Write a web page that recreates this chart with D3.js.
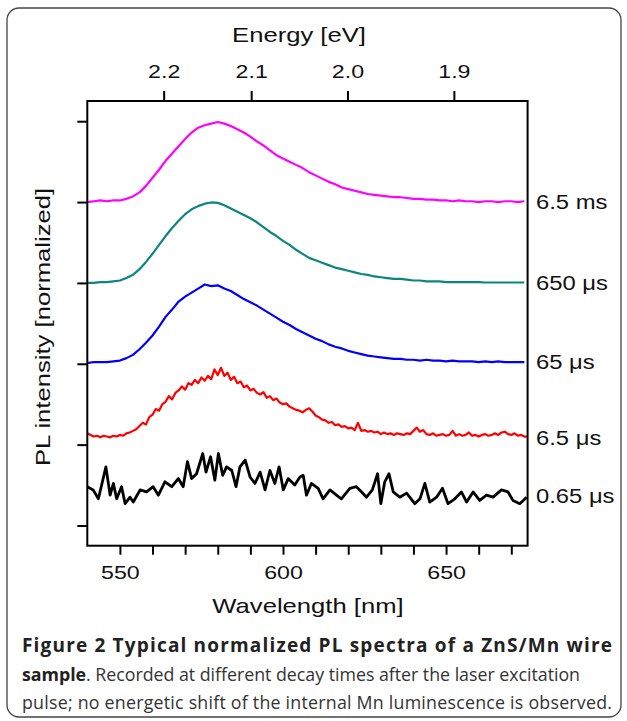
<!DOCTYPE html>
<meta charset="utf-8">
<style>
  body { margin: 0; background: #fff; }
  svg { display: block; }
  .chart text { font-family: "Liberation Sans", Arial, sans-serif; fill: #111; }
  .caption { font-family: "Open Sans", sans-serif; fill: #333; font-size: 17.8px; }
</style>
<svg width="627" height="721"></svg>
<script src="https://d3js.org/d3.v7.min.js"></script>
<script>
// ---- data ----
var seriesLabels = ["6.5 ms", "650 \u03bcs", "65 \u03bcs", "6.5 \u03bcs", "0.65 \u03bcs"];
var seriesColors = ["#ff00ff", "#0a8580", "#0000ff", "#ff0000", "#000000"];
var labelLevels = [4.0, 3.0, 2.02, 1.08, 0.36];

var wl2 = d3.range(540, 675, 2);   // 2 nm sampling of the smooth traces
var magentaVals = [4.00,4.01,4.02,4.01,4.02,4.02,4.04,4.07,4.12,4.20,4.30,4.40,4.51,4.60,4.69,4.78,4.86,4.92,4.95,4.97,
  4.99,4.97,4.94,4.90,4.86,4.81,4.75,4.70,4.64,4.58,4.54,4.50,4.46,4.42,4.37,4.33,4.29,4.25,4.22,4.18,
  4.16,4.14,4.12,4.10,4.09,4.08,4.07,4.06,4.06,4.05,4.04,4.04,4.03,4.03,4.02,4.02,4.01,4.02,4.01,4.01,
  4.00,4.01,4.01,4.00,4.01,4.01,4.00,4.01];
var tealVals = [3.00,3.00,3.01,3.01,3.02,3.03,3.06,3.10,3.17,3.26,3.36,3.47,3.58,3.68,3.77,3.85,3.91,3.95,3.98,3.995,
  3.99,3.96,3.92,3.88,3.84,3.80,3.75,3.69,3.63,3.58,3.52,3.47,3.41,3.36,3.31,3.28,3.25,3.22,3.19,3.17,
  3.15,3.13,3.11,3.10,3.08,3.07,3.06,3.05,3.05,3.04,3.03,3.03,3.02,3.02,3.02,3.01,3.01,3.01,3.01,3.01,
  3.01,3.005,3.005,3.005,3.005,3.005,3.005,3.005];
var blueVals = [2.01,2.02,2.02,2.02,2.03,2.04,2.07,2.11,2.18,2.26,2.35,2.46,2.58,2.67,2.77,2.83,2.88,2.93,2.98,2.96,
  2.97,2.93,2.90,2.85,2.80,2.76,2.72,2.67,2.62,2.57,2.52,2.48,2.43,2.39,2.35,2.31,2.28,2.24,2.21,2.19,
  2.16,2.14,2.12,2.10,2.09,2.08,2.07,2.06,2.06,2.05,2.05,2.04,2.05,2.04,2.04,2.03,2.04,2.03,2.03,2.03,
  2.02,2.03,2.02,2.03,2.02,2.02,2.02,2.02];

var wl1 = d3.range(540, 676, 1);   // 1 nm sampling of the 6.5 us trace
var redVals = [1.14,1.12,1.10,1.11,1.09,1.11,1.10,1.09,1.11,1.10,1.12,1.11,1.14,1.15,1.17,1.19,1.23,1.27,1.25,1.34,
  1.37,1.44,1.42,1.50,1.53,1.60,1.56,1.64,1.67,1.72,1.68,1.76,1.74,1.80,1.76,1.83,1.79,1.85,1.81,1.93,
  1.86,1.95,1.85,1.89,1.80,1.84,1.76,1.78,1.71,1.73,1.67,1.69,1.64,1.62,1.65,1.58,1.60,1.55,1.57,1.52,
  1.50,1.51,1.47,1.45,1.43,1.42,1.40,1.43,1.45,1.41,1.36,1.34,1.31,1.30,1.27,1.28,1.24,1.25,1.22,1.23,
  1.20,1.21,1.18,1.27,1.17,1.18,1.16,1.17,1.15,1.16,1.13,1.15,1.13,1.14,1.12,1.14,1.13,1.12,1.14,1.13,
  1.17,1.21,1.16,1.18,1.13,1.12,1.14,1.11,1.12,1.13,1.11,1.12,1.17,1.11,1.13,1.11,1.12,1.15,1.11,1.12,
  1.10,1.12,1.13,1.11,1.12,1.14,1.12,1.15,1.16,1.13,1.12,1.14,1.11,1.12,1.10,1.10];

var blackWl = [540,541.8,543.4,545.7,547,548,549,550.5,551.6,553.1,554.1,556.2,558.2,560.2,561.8,563.8,565.9,567.9,569.4,570.7,
  572,573.5,575.4,576.4,577.8,579.1,580.2,581.5,582.7,584.3,585.6,586.8,588.4,589.9,591.4,593,594.5,596,597.5,598.8,
  600.1,601.6,603.6,605.2,606.2,607.2,608.7,610.8,612.3,614.4,616.4,617.9,620.5,622.5,624.1,625.6,627.4,629,630,631.2,
  632.5,633.8,635.8,637.9,640.4,642,643.5,645,647.1,648.9,650.6,652.7,654.7,656.3,658.3,660.3,662.4,664.4,667,669,
  670.5,672.6,674.7];
var blackVals = [0.48,0.44,0.33,0.725,0.375,0.52,0.33,0.48,0.27,0.35,0.29,0.44,0.415,0.48,0.375,0.54,0.48,0.58,0.48,0.79,
  0.58,0.64,0.89,0.66,0.85,0.56,0.89,0.62,0.725,0.68,0.48,0.725,0.81,0.60,0.52,0.66,0.44,0.68,0.52,0.725,
  0.44,0.58,0.50,0.60,0.62,0.375,0.52,0.46,0.33,0.44,0.375,0.33,0.46,0.48,0.415,0.35,0.44,0.64,0.27,0.54,
  0.64,0.415,0.35,0.40,0.27,0.33,0.52,0.29,0.35,0.46,0.27,0.33,0.415,0.29,0.415,0.31,0.375,0.35,0.44,0.415,
  0.31,0.27,0.35];

var energyTicks = [2.2, 2.1, 2.0, 1.9];
var wavelengthTicks = d3.range(550, 675, 10);
var wavelengthLabels = [550, 600, 650];
var yTicks = [0, 1, 2, 3, 4, 5];
var HC = 1239.84; // eV*nm

var captionBold1 = "Figure 2 Typical normalized PL spectra of a ZnS/Mn wire";
var captionBold2 = "sample";
var captionRest2 = ". Recorded at different decay times after the laser excitation";
var captionLine3 = "pulse; no energetic shift of the internal Mn luminescence is observed.";

// ---- drawing ----
var svg = d3.select("svg");
var SX = 1.22; // the original lettering is wider than Arial

function widen(sel) {
    sel.each(function () {
        var w = this.getComputedTextLength();
        d3.select(this).attr("textLength", w * SX).attr("lengthAdjust", "spacingAndGlyphs");
    });
}

svg.append("rect")
    .attr("x", 7).attr("y", 8).attr("width", 614).attr("height", 709)
    .attr("rx", 12)
    .style("fill", "none").style("stroke", "#444").style("stroke-width", 1.3);

var x = d3.scaleLinear().domain([540, 675]).range([87.3, 527.6]);
var y = d3.scaleLinear().domain([-0.25, 5.25]).range([545.7, 101]);

var chart = svg.append("g").attr("class", "chart");

var series = [
    { wl: wl2, v: magentaVals, w: 2.2 },
    { wl: wl2, v: tealVals, w: 2.2 },
    { wl: wl2, v: blueVals, w: 2.2 },
    { wl: wl1, v: redVals, w: 2.2 },
    { wl: blackWl, v: blackVals, w: 2.8 }
];

var line = d3.line()
    .x(function (d) { return x(d[0]); })
    .y(function (d) { return y(d[1]); });

chart.selectAll(".trace")
    .data(series)
    .enter().append("path")
    .attr("class", "trace")
    .attr("d", function (s) { return line(s.wl.map(function (w, i) { return [w, s.v[i]]; })); })
    .style("fill", "none")
    .style("stroke", function (s, i) { return seriesColors[i]; })
    .style("stroke-width", function (s) { return s.w; })
    .style("stroke-linejoin", "round");

// frame
chart.append("rect")
    .attr("x", x.range()[0]).attr("y", y.range()[1])
    .attr("width", x.range()[1] - x.range()[0])
    .attr("height", y.range()[0] - y.range()[1])
    .style("fill", "none").style("stroke", "#000").style("stroke-width", 2);

// bottom axis
var xAxis = chart.append("g")
    .attr("transform", "translate(0," + y.range()[0] + ")")
    .call(d3.axisBottom(x).tickValues(wavelengthTicks).tickSize(9).tickPadding(11)
        .tickFormat(function (d) { return wavelengthLabels.indexOf(d) >= 0 ? d : ""; }));
xAxis.select(".domain").remove();
xAxis.selectAll("line").style("stroke", "#000").style("stroke-width", 2);
xAxis.selectAll("text").style("font-size", "19px").style("fill", "#111").call(widen);

// left axis (unlabelled)
var yAxis = chart.append("g")
    .attr("transform", "translate(" + x.range()[0] + ",0)")
    .call(d3.axisLeft(y).tickValues(yTicks).tickSize(10).tickFormat(""));
yAxis.select(".domain").remove();
yAxis.selectAll("line").style("stroke", "#000").style("stroke-width", 2);

// top energy axis
var eAxis = chart.append("g").attr("transform", "translate(0," + y.range()[1] + ")");
var et = eAxis.selectAll(".etick").data(energyTicks).enter().append("g")
    .attr("class", "etick")
    .attr("transform", function (e) { return "translate(" + x(HC / e) + ",0)"; });
et.append("line").attr("y2", -10).style("stroke", "#000").style("stroke-width", 2);
et.append("text").attr("y", -23).attr("text-anchor", "middle")
    .style("font-size", "19px")
    .text(function (e) { return d3.format(".1f")(e); })
    .call(widen);

// titles
chart.append("text").attr("x", 299).attr("y", 42).attr("text-anchor", "middle")
    .style("font-size", "21px").text("Energy [eV]").call(widen);
chart.append("text").attr("x", 308).attr("y", 613).attr("text-anchor", "middle")
    .style("font-size", "21px").text("Wavelength [nm]").call(widen);
chart.append("text")
    .attr("transform", "translate(50,327) rotate(-90)")
    .attr("text-anchor", "middle")
    .style("font-size", "21px").text("PL intensity [normalized]").call(widen);

// series labels
chart.selectAll(".slabel").data(seriesLabels).enter().append("text")
    .attr("class", "slabel")
    .attr("x", 536)
    .attr("y", function (d, i) { return y(labelLevels[i]) + 7; })
    .style("font-size", "19.5px")
    .text(function (d) { return d; })
    .call(widen);

// caption
var cap = svg.append("g").attr("class", "caption");
cap.append("text").attr("x", 22).attr("y", 652)
    .attr("textLength", 590).attr("lengthAdjust", "spacing")
    .style("font-weight", "bold").style("font-size", "19px").style("fill", "#222")
    .text(captionBold1);
var l2 = cap.append("text").attr("x", 22).attr("y", 681)
    .attr("textLength", 558).attr("lengthAdjust", "spacing");
l2.append("tspan").style("font-weight", "bold").style("fill", "#222").text(captionBold2);
l2.append("tspan").text(captionRest2);
cap.append("text").attr("x", 22).attr("y", 709)
    .attr("textLength", 590).attr("lengthAdjust", "spacing")
    .text(captionLine3);
</script>
